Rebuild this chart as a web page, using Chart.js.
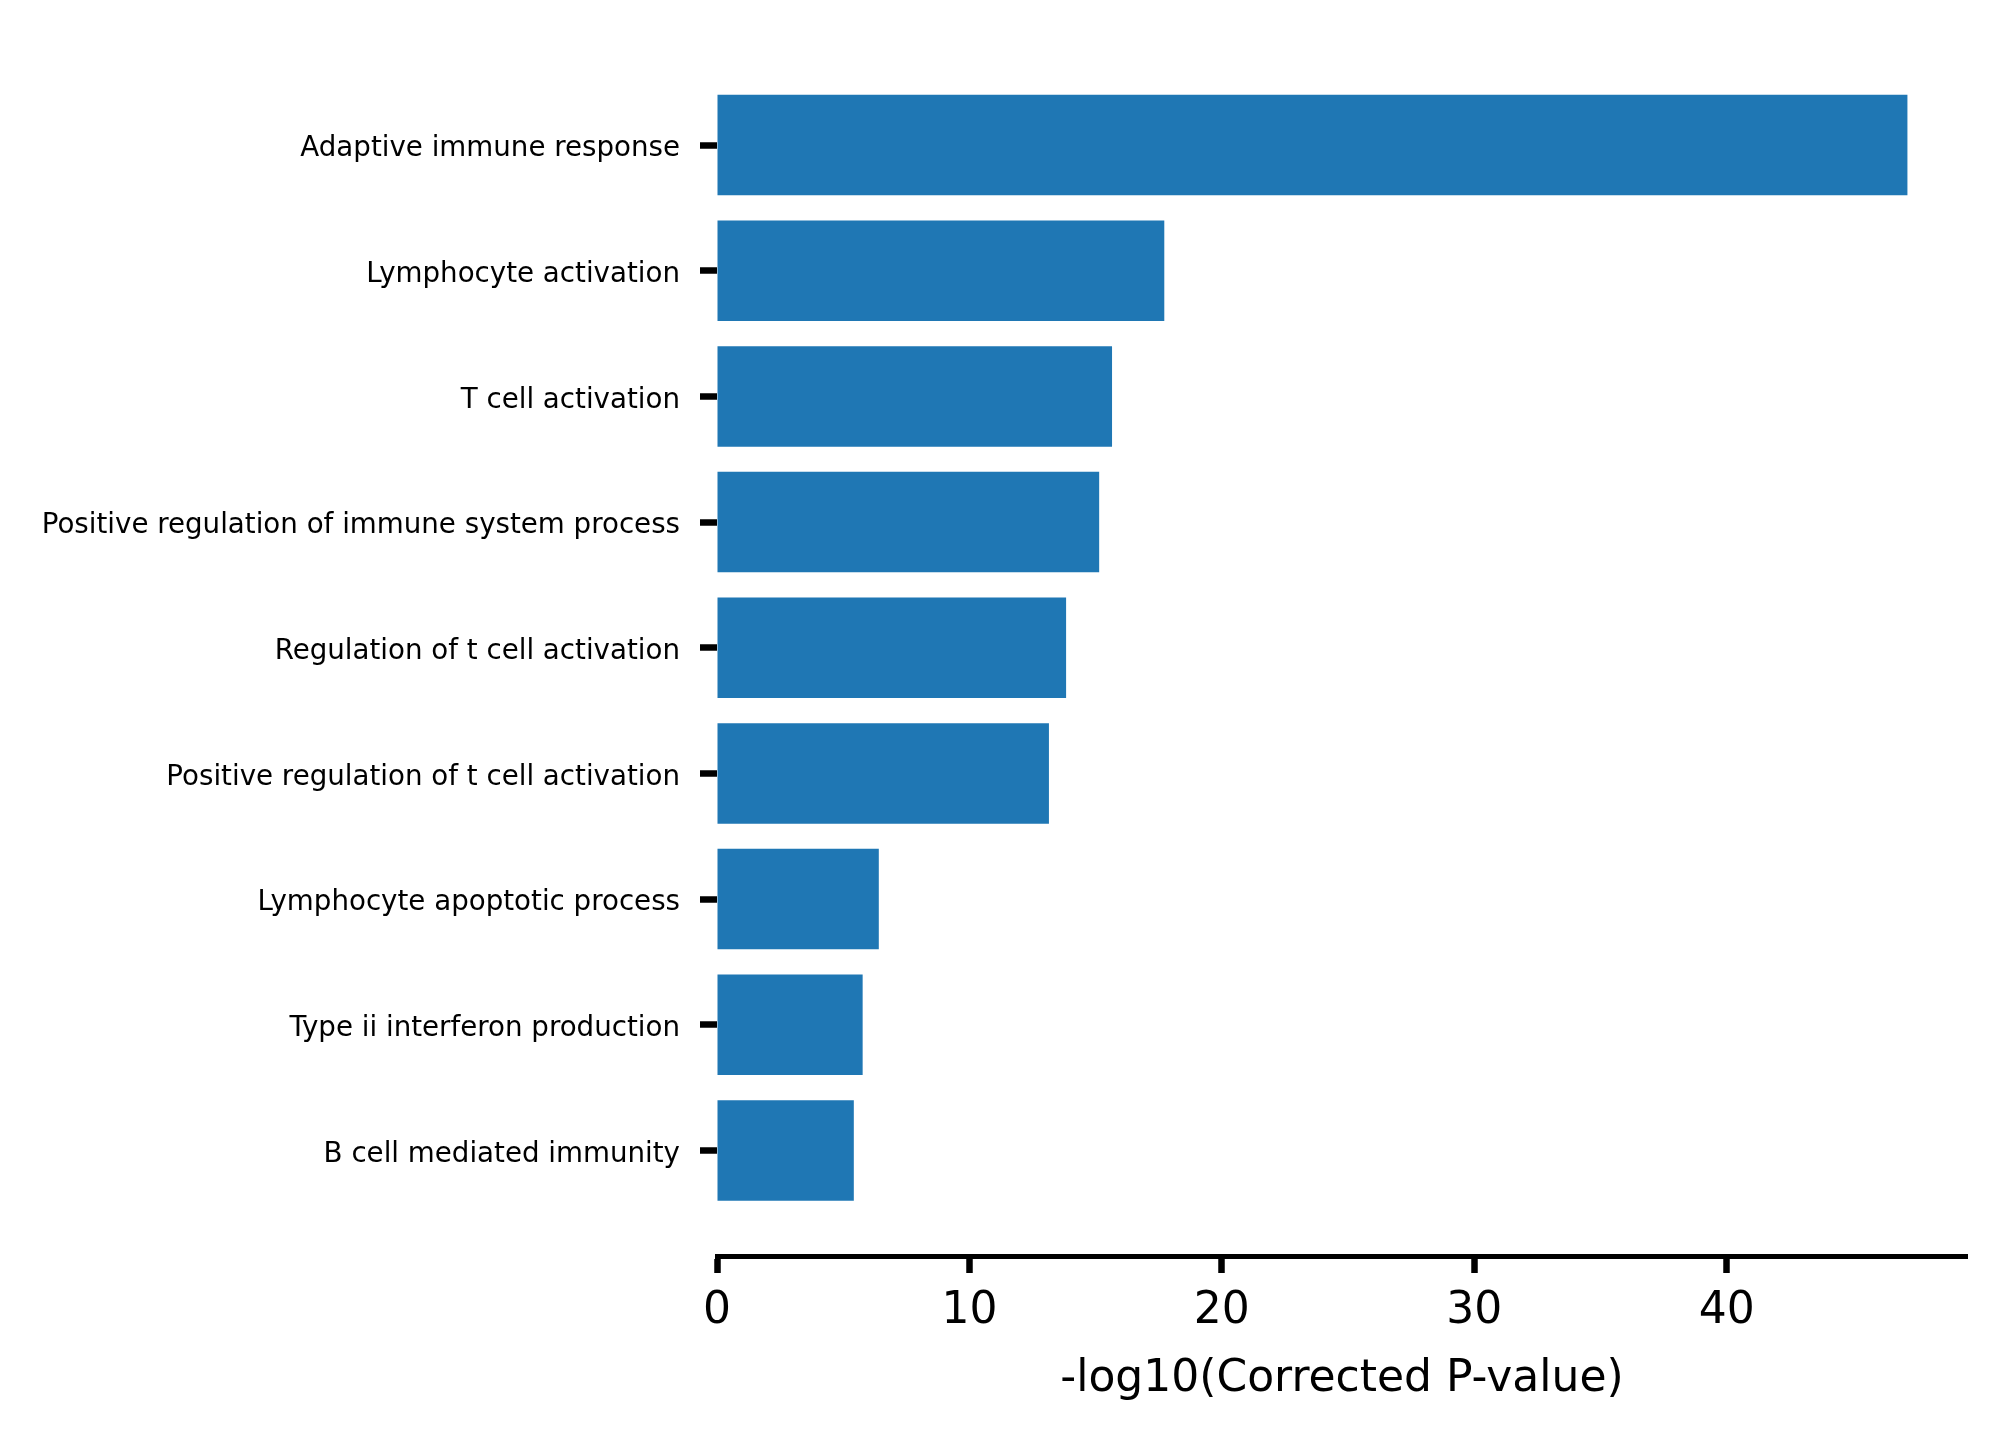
<!DOCTYPE html>
<html>
<head>
<meta charset="utf-8">
<script src="https://cdn.jsdelivr.net/npm/chart.js@4.4.1/dist/chart.umd.min.js"></script>
<style>
    html, body { margin: 0; padding: 0; background: #fff; }
    #wrap { width: 2005px; height: 1440px; position: relative; }
</style>
</head>
<body>
<div id="wrap"><canvas id="goChart"></canvas></div>
<script>
// GO terms, top to bottom
const categories = [
    'Adaptive immune response',
    'Lymphocyte activation',
    'T cell activation',
    'Positive regulation of immune system process',
    'Regulation of t cell activation',
    'Positive regulation of t cell activation',
    'Lymphocyte apoptotic process',
    'Type ii interferon production',
    'B cell mediated immunity'
];
const pValues = [47.16, 17.72, 15.65, 15.14, 13.83, 13.15, 6.41, 5.77, 5.42];
const xTicks = [0, 10, 20, 30, 40];
const xTitle = '-log10(Corrected P-value)';

const FONT = 'DejaVu Sans';

const ctx = document.getElementById('goChart').getContext('2d');

new Chart(ctx, {
    type: 'bar',
    data: {
        datasets: [{
            data: pValues.map((v, i) => ({ x: v, y: i })),
            backgroundColor: '#1f77b4',
            borderWidth: 0,
            categoryPercentage: 1,
            barPercentage: 0.8
        }]
    },
    options: {
        indexAxis: 'y',
        responsive: true,
        maintainAspectRatio: false,
        animation: false,
        layout: {
            padding: { top: 39.5, right: 38, bottom: 0, left: 0 }
        },
        plugins: {
            legend: { display: false },
            tooltip: { enabled: false }
        },
        scales: {
            x: {
                type: 'linear',
                position: 'bottom',
                min: 0,
                max: 49.52,
                afterBuildTicks: (axis) => { axis.ticks = xTicks.map(v => ({ value: v })); },
                afterFit: (axis) => { axis.height = 184; },
                border: { display: true, color: '#000', width: 5 },
                grid: {
                    drawOnChartArea: false,
                    drawTicks: true,
                    tickLength: 17,
                    tickWidth: 6.5,
                    tickColor: '#000'
                },
                ticks: {
                    color: '#000',
                    font: { family: FONT, size: 44 },
                    padding: 12,
                    maxRotation: 0,
                    autoSkip: false
                },
                title: {
                    display: true,
                    text: xTitle,
                    color: '#000',
                    font: { family: FONT, size: 44 },
                    padding: { top: 0, bottom: 34 }
                }
            },
            y: {
                type: 'linear',
                position: 'left',
                reverse: true,
                offset: false,
                min: -0.84,
                max: 8.84,
                afterBuildTicks: (axis) => { axis.ticks = categories.map((c, i) => ({ value: i })); },
                afterFit: (axis) => { axis.width = 717; },
                border: { display: false },
                grid: {
                    offset: false,
                    drawOnChartArea: false,
                    drawTicks: true,
                    tickLength: 17,
                    tickWidth: 6.5,
                    tickColor: '#000'
                },
                ticks: {
                    color: '#000',
                    font: { family: FONT, size: 27.7 },
                    padding: 20,
                    labelOffset: 4,
                    autoSkip: false,
                    callback: (v) => categories[v]
                }
            }
        }
    }
});
</script>
</body>
</html>
